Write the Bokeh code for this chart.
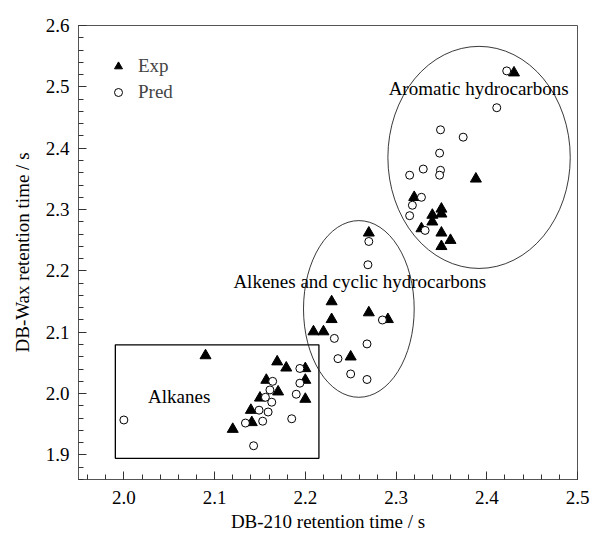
from bokeh.plotting import figure
from bokeh.models import (Range1d, FixedTicker, PrintfTickFormatter, Legend,
                          LegendItem, ColumnDataSource)
from bokeh.core.properties import value
from bokeh.embed import file_html
from bokeh.resources import INLINE

# ---- data ----
exp_x = [2.090, 2.120, 2.140, 2.141, 2.150, 2.157, 2.169, 2.179, 2.170, 2.200, 2.200, 2.200,
         2.229, 2.229, 2.209, 2.220, 2.270, 2.291, 2.250, 2.270,
         2.430, 2.388, 2.320, 2.350, 2.350, 2.340, 2.340, 2.328, 2.350, 2.360, 2.350]
exp_y = [2.062, 1.942, 1.973, 1.953, 1.993, 2.022, 2.052, 2.042, 2.003, 2.041, 2.022, 1.991,
         2.150, 2.121, 2.101, 2.101, 2.132, 2.121, 2.060, 2.262,
         2.523, 2.350, 2.320, 2.301, 2.293, 2.291, 2.280, 2.269, 2.262, 2.250, 2.240]

pred_x = [2.000, 2.194, 2.194, 2.190, 2.185, 2.164, 2.161, 2.156, 2.163, 2.149, 2.159, 2.153, 2.134, 2.143,
          2.232, 2.236, 2.250, 2.268, 2.268, 2.285, 2.269, 2.270,
          2.422, 2.411, 2.349, 2.374, 2.348, 2.330, 2.349, 2.348, 2.315, 2.328, 2.318, 2.315, 2.332]
pred_y = [1.957, 2.041, 2.017, 1.999, 1.959, 2.020, 2.006, 1.994, 1.986, 1.973, 1.970, 1.955, 1.952, 1.915,
          2.090, 2.057, 2.032, 2.023, 2.081, 2.120, 2.210, 2.248,
          2.526, 2.466, 2.430, 2.418, 2.392, 2.366, 2.364, 2.356, 2.356, 2.320, 2.307, 2.290, 2.266]

# group annotations
group_labels = ["Alkanes", "Alkenes and cyclic hydrocarbons", "Aromatic hydrocarbons"]
label_x = [2.061, 2.260, 2.391]
label_y = [1.996, 2.182, 2.498]

ellipse_x = [2.259, 2.3915]
ellipse_y = [2.138, 2.385]
ellipse_w = [0.122, 0.201]
ellipse_h = [0.288, 0.362]

box_left, box_right, box_bottom, box_top = 1.9906, 2.215, 1.8945, 2.0795

x_major = [2.0, 2.1, 2.2, 2.3, 2.4, 2.5]
x_minor = [round(1.96 + 0.02 * i, 2) for i in range(28)]
y_major = [1.9, 2.0, 2.1, 2.2, 2.3, 2.4, 2.5, 2.6]
y_minor = [round(1.86 + 0.02 * i, 2) for i in range(38)]

FONT = "Liberation Serif"
FS = "19px"

p = figure(width=592, height=534, x_range=Range1d(1.95, 2.5), y_range=Range1d(1.86, 2.6),
           output_backend="svg", toolbar_location=None,
           min_border_left=78, min_border_right=15, min_border_top=25, min_border_bottom=54)
p.grid.visible = False
p.background_fill_color = "white"
p.border_fill_color = "white"
p.outline_line_color = "#555555"
p.outline_line_width = 1

for ax, maj, mn in ((p.xaxis[0], x_major, x_minor), (p.yaxis[0], y_major, y_minor)):
    ax.ticker = FixedTicker(ticks=maj, minor_ticks=mn)
    ax.formatter = PrintfTickFormatter(format="%.1f")
    ax.major_tick_in = 8
    ax.major_tick_out = 0
    ax.minor_tick_in = 5
    ax.minor_tick_out = 0
    ax.axis_line_color = "#555555"
    ax.major_tick_line_color = "#333333"
    ax.minor_tick_line_color = "#333333"
    ax.major_label_text_font = FONT
    ax.major_label_text_font_size = FS
    ax.major_label_text_color = "black"
    ax.axis_label_text_font = FONT
    ax.axis_label_text_font_size = FS
    ax.axis_label_text_font_style = "normal"
    ax.axis_label_text_color = "black"

p.xaxis.major_label_standoff = 11
p.yaxis.major_label_standoff = 9
p.xaxis.axis_label = "DB-210 retention time / s"
p.yaxis.axis_label = "DB-Wax retention time / s"
p.xaxis.axis_label_standoff = 4
p.yaxis.axis_label_standoff = 10

# annotations: box and ellipses
p.quad(left=[box_left], right=[box_right], bottom=[box_bottom], top=[box_top],
       fill_alpha=0, line_color="black", line_width=1.3)
p.ellipse(x=ellipse_x, y=ellipse_y, width=ellipse_w, height=ellipse_h,
          fill_alpha=0, line_color="#222222", line_width=0.9)

# points
src_exp = ColumnDataSource(dict(x=exp_x, y=exp_y))
src_pred = ColumnDataSource(dict(x=pred_x, y=pred_y))
r_exp = p.scatter("x", "y", source=src_exp, marker="triangle", size=11,
                  fill_color="black", line_color="black")
r_pred = p.scatter("x", "y", source=src_pred, marker="circle", size=8,
                   fill_color="white", line_color="black", line_width=1)

# group labels
p.text(x=label_x, y=label_y, text=group_labels, text_font=value(FONT),
       text_font_size=FS, text_align="center", text_baseline="middle", text_color="black")

legend = Legend(items=[LegendItem(label="Exp", renderers=[r_exp]),
                       LegendItem(label="Pred", renderers=[r_pred])],
                location="top_left", margin=0, padding=30, spacing=4,
                glyph_width=20, glyph_height=20, label_standoff=10,
                label_text_font=FONT, label_text_font_size=FS,
                border_line_alpha=0, background_fill_alpha=0)
p.add_layout(legend)

open("out.html", "w").write(file_html(p, INLINE))
